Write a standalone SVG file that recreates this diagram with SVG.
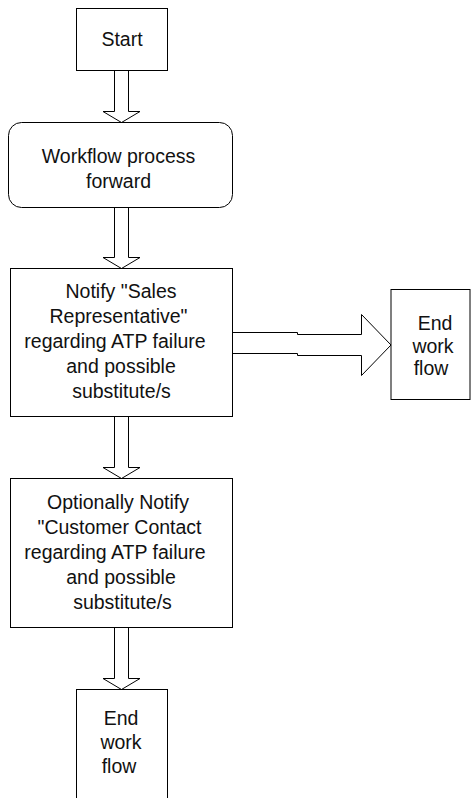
<svg xmlns="http://www.w3.org/2000/svg" width="472" height="798" viewBox="0 0 472 798">
<style>
.n{fill:#fff;stroke:#000;stroke-width:1}
.c{fill:#fff;stroke:#000;stroke-width:1;stroke-linejoin:miter}
text{font-family:"Liberation Sans",Arial,sans-serif;font-size:19.5px;fill:#111;text-anchor:middle}
</style>
<rect width="472" height="798" fill="#fff"/>
<g id="connectors">
<polygon class="c" points="114.5,70.5 128.5,70.5 128.5,111.5 140,111.5 121.5,122.5 103,111.5 114.5,111.5"/>
<polygon class="c" points="114.5,207.5 128.5,207.5 128.5,257.5 140,257.5 121.5,268.5 103,257.5 114.5,257.5"/>
<polygon class="c" points="114.5,416.5 128.5,416.5 128.5,467.5 140,467.5 121.5,478.5 103,467.5 114.5,467.5"/>
<polygon class="c" points="114.5,627.5 128.5,627.5 128.5,678.5 140,678.5 121.5,689.5 103,678.5 114.5,678.5"/>
<polygon class="c" points="232.5,332.5 297.5,332.5 297.5,334.5 361.5,334.5 361.5,314.5 391,345 361.5,375.5 361.5,355.5 297.5,355.5 297.5,353.5 232.5,353.5"/>
</g>
<g id="start">
<rect class="n" x="76.5" y="8.5" width="91" height="62"/>
<text x="122" y="46">Start</text>
</g>
<g id="workflow">
<rect class="n" x="8.5" y="122.5" width="224" height="85" rx="13" ry="13"/>
<text x="118.5" y="163">Workflow process</text>
<text x="118.5" y="188">forward</text>
</g>
<g id="notify-sales">
<rect class="n" x="10.5" y="268.5" width="222" height="148"/>
<text x="121" y="298">Notify "Sales</text>
<text x="118.5" y="323">Representative"</text>
<text x="115" y="348">regarding ATP failure</text>
<text x="121" y="373">and possible</text>
<text x="121.5" y="398">substitute/s</text>
</g>
<g id="end-right">
<rect class="n" x="391" y="289.5" width="79" height="110"/>
<text x="435" y="330">End</text>
<text x="433" y="353">work</text>
<text x="431" y="375">flow</text>
</g>
<g id="notify-customer">
<rect class="n" x="10.5" y="478.5" width="222" height="149"/>
<text x="118" y="509">Optionally Notify</text>
<text x="119.5" y="534">"Customer Contact</text>
<text x="115" y="559">regarding ATP failure</text>
<text x="121" y="584">and possible</text>
<text x="122.5" y="609">substitute/s</text>
</g>
<g id="end-bottom">
<rect class="n" x="76.5" y="689.5" width="91" height="120"/>
<text x="121" y="725">End</text>
<text x="121" y="749">work</text>
<text x="119" y="773">flow</text>
</g>
</svg>
